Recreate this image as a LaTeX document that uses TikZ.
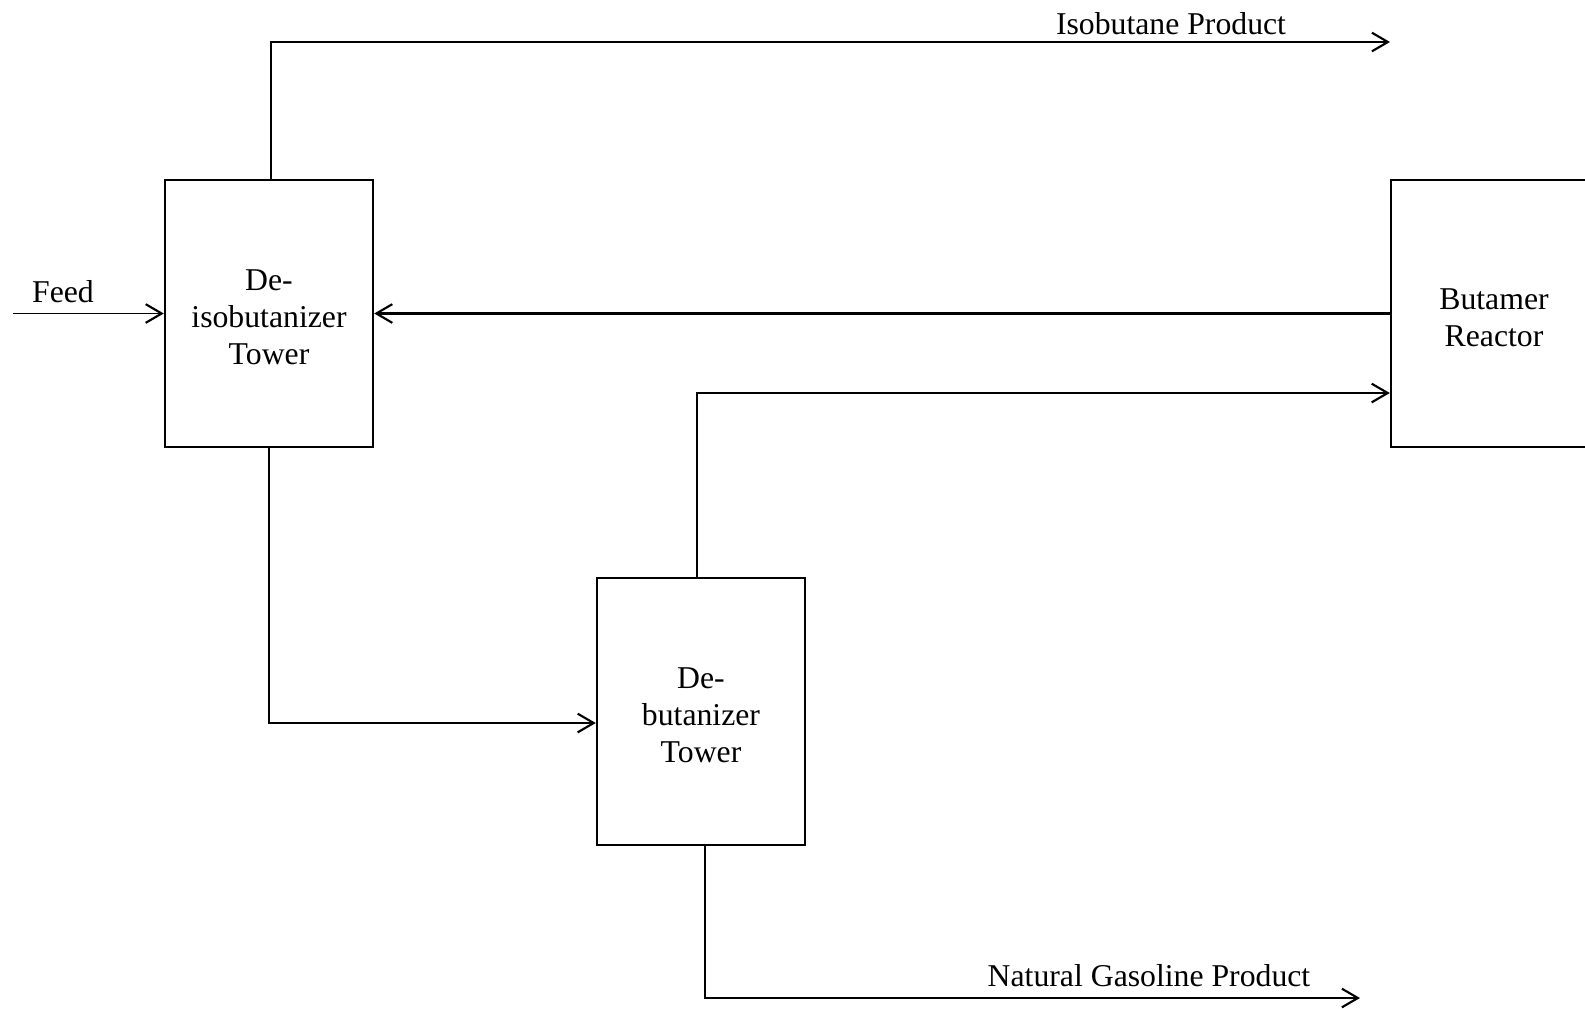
\documentclass[tikz,border=0pt]{standalone}
\usepackage{fontspec}
\setmainfont{Liberation Serif}
\usetikzlibrary{arrows.meta}
\newcommand{\pushdown}{\rule{0pt}{21.5pt}}
\begin{document}
\begin{tikzpicture}[x=0.75pt,y=-0.75pt,
  unitbox/.style={draw, line width=1.8pt, minimum width=156pt, minimum height=200pt, inner sep=0pt, align=center, font=\fontsize{23.8}{27.7}\selectfont},
  flow/.style={line width=1.6pt, -{Straight Barb[length=12pt,width=14pt,line width=1.6pt]}},
  lbl/.style={font=\fontsize{23.8}{27.7}\selectfont, inner sep=0pt}]
\useasboundingbox (0,0) rectangle (1585,1008);
\clip (0,0) rectangle (1585,1008);
\node[unitbox] (b1) at (269,313.5) {\pushdown De-\\isobutanizer\\Tower};
\node[unitbox] (db) at (701,711.5) {\pushdown De-\\butanizer\\Tower};
\node[unitbox, minimum width=154.5pt] (bu) at (1494,313.5) {\pushdown Butamer\\Reactor};
\coordinate (feedin) at (13,313.5);
\coordinate (isoend) at (1390,42);
\coordinate (gasend) at (1360,998);
\node[lbl] (feedlbl) at (63,292) {Feed};
\node[lbl] (isolbl) at (1171,24) {Isobutane Product};
\node[lbl] (gaslbl) at (1149,976) {Natural Gasoline Product};
\draw[flow, line width=1.2pt] (feedin) -- (b1.west);
\draw[flow] (bu.west) -- (b1.east);
\draw[flow] ([xshift=1.5pt]b1.north) |- (isoend);
\draw[flow] (b1.south) -- (b1.south |- 0,723) -- (db.west |- 0,723);
\draw[flow] ([xshift=-3pt]db.north) |- (bu.west |- 0,393);
\draw[flow] ([xshift=3pt]db.south) |- (gasend);
\end{tikzpicture}
\end{document}
